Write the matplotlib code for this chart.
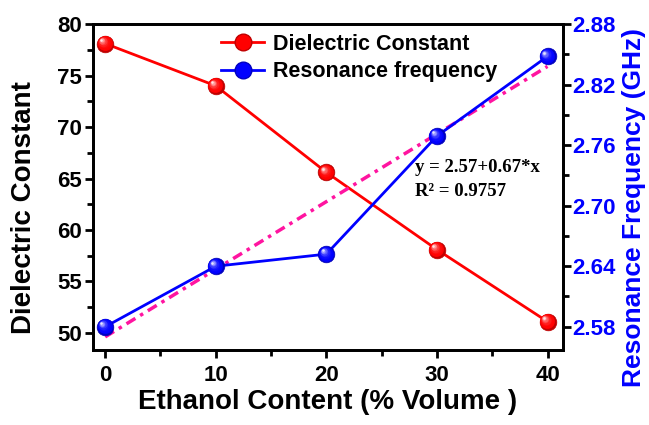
import numpy as np
import matplotlib
matplotlib.use("Agg")
import matplotlib.pyplot as plt
from matplotlib import transforms
from matplotlib.ticker import MultipleLocator, FormatStrFormatter
from matplotlib.lines import Line2D

# ethanol content (% volume)
ethanol = [0, 10, 20, 30, 40]
# dielectric constant of the mixture
dielectric = [78.1, 74.0, 65.6, 58.1, 51.1]
# resonance frequency (GHz)
resonance = [2.580, 2.640, 2.652, 2.769, 2.848]
# linear fit reported for resonance frequency
fit_a, fit_b = 2.57, 0.67
fit_r2 = 0.9757

plt.rcParams['font.family'] = ['Liberation Sans', 'DejaVu Sans']
plt.rcParams['font.weight'] = 'bold'


def ball(ax, x, y, color, size=12):
    """draw shaded spheres as markers"""
    fig = ax.figure
    base = np.array(matplotlib.colors.to_rgb(color))
    dark = base * 0.75
    ax.plot(x, y, 'o', ms=size, mfc=dark, mec=dark, mew=0.5, zorder=5)
    n = 8
    for k in range(1, n + 1):
        t = k / n
        c = base * (1 - t ** 3 * 0.9) + np.ones(3) * (t ** 3 * 0.9)
        r = size * (1 - 0.85 * t)
        off = transforms.offset_copy(ax.transData, fig=fig,
                                     x=-size * 0.22 * t, y=size * 0.22 * t,
                                     units='points')
        ax.plot(x, y, 'o', ms=r, mfc=c, mec='none', transform=off, zorder=5 + k * 0.01)


fig = plt.figure(figsize=(6.49, 4.25), dpi=100)
ax = fig.add_axes([0.1433, 0.1765, 0.7242, 0.767])
ax2 = ax.twinx()

ax.set_xlim(-1.1, 41.4)
ax.set_ylim(48.35, 80)
ax2.set_ylim(2.557, 2.88)

ax.plot(ethanol, dielectric, '-', color='red', lw=2, zorder=3)
ball(ax, ethanol, dielectric, 'red')

xf = np.array([0, 40])
ax2.plot(xf, fit_a + fit_b * xf / 100, color='#ff14a0', lw=2.5,
         dashes=(3, 1.6, 1, 1.6), zorder=2)
ax2.plot(ethanol, resonance, '-', color='blue', lw=2, zorder=3)
ball(ax2, ethanol, resonance, 'blue')

ax2.text(0.685, 0.561, 'y = %.2f+%.2f*x' % (fit_a, fit_b), transform=ax2.transAxes,
         family=['Liberation Serif'], weight='bold', fontsize=13.5, va='center')
ax2.text(0.685, 0.485, 'R\u00b2 = %.4f' % fit_r2, transform=ax2.transAxes,
         family=['Liberation Serif'], weight='bold', fontsize=13.5, va='center')

ax.xaxis.set_major_locator(MultipleLocator(10))
ax.xaxis.set_minor_locator(MultipleLocator(5))
ax.yaxis.set_major_locator(MultipleLocator(5))
ax.yaxis.set_minor_locator(MultipleLocator(2.5))
ax2.yaxis.set_major_locator(MultipleLocator(0.06))
ax2.yaxis.set_minor_locator(MultipleLocator(0.03))
ax2.yaxis.set_major_formatter(FormatStrFormatter('%.2f'))

for a in (ax, ax2):
    for s in a.spines.values():
        s.set_linewidth(2)
    a.tick_params(which='major', direction='out', length=6, width=2, labelsize=16)
    a.tick_params(which='minor', direction='out', length=4, width=2)
ax.tick_params(axis='y', which='both', right=False, pad=2)
ax.tick_params(axis='x', pad=5)
ax2.tick_params(axis='y', which='both', labelcolor='blue', pad=1)

ax.set_xlabel('Ethanol Content (% Volume )', fontsize=20, fontweight='bold', labelpad=2)
ax.set_ylabel('Dielectric Constant', fontsize=20, fontweight='bold')
ax2.set_ylabel('Resonance Frequency (GHz)', fontsize=19, fontweight='bold',
               color='blue')
ax.yaxis.set_label_coords(-0.119, 0.436)
ax2.yaxis.set_label_coords(1.126, 0.436)

handles = [Line2D([], [], color='red', lw=2, marker='o', ms=12, mfc='red', mec='#c00000'),
           Line2D([], [], color='blue', lw=2, marker='o', ms=12, mfc='blue', mec='#0000c0')]
ax2.legend(handles, ['Dielectric Constant', 'Resonance frequency'], loc='upper left',
           bbox_to_anchor=(0.232, 1.03), frameon=False, handlelength=2.0,
           handletextpad=0.4, labelspacing=0.3, prop={'weight': 'bold', 'size': 15.5})

fig.savefig('out.png', dpi=100)
